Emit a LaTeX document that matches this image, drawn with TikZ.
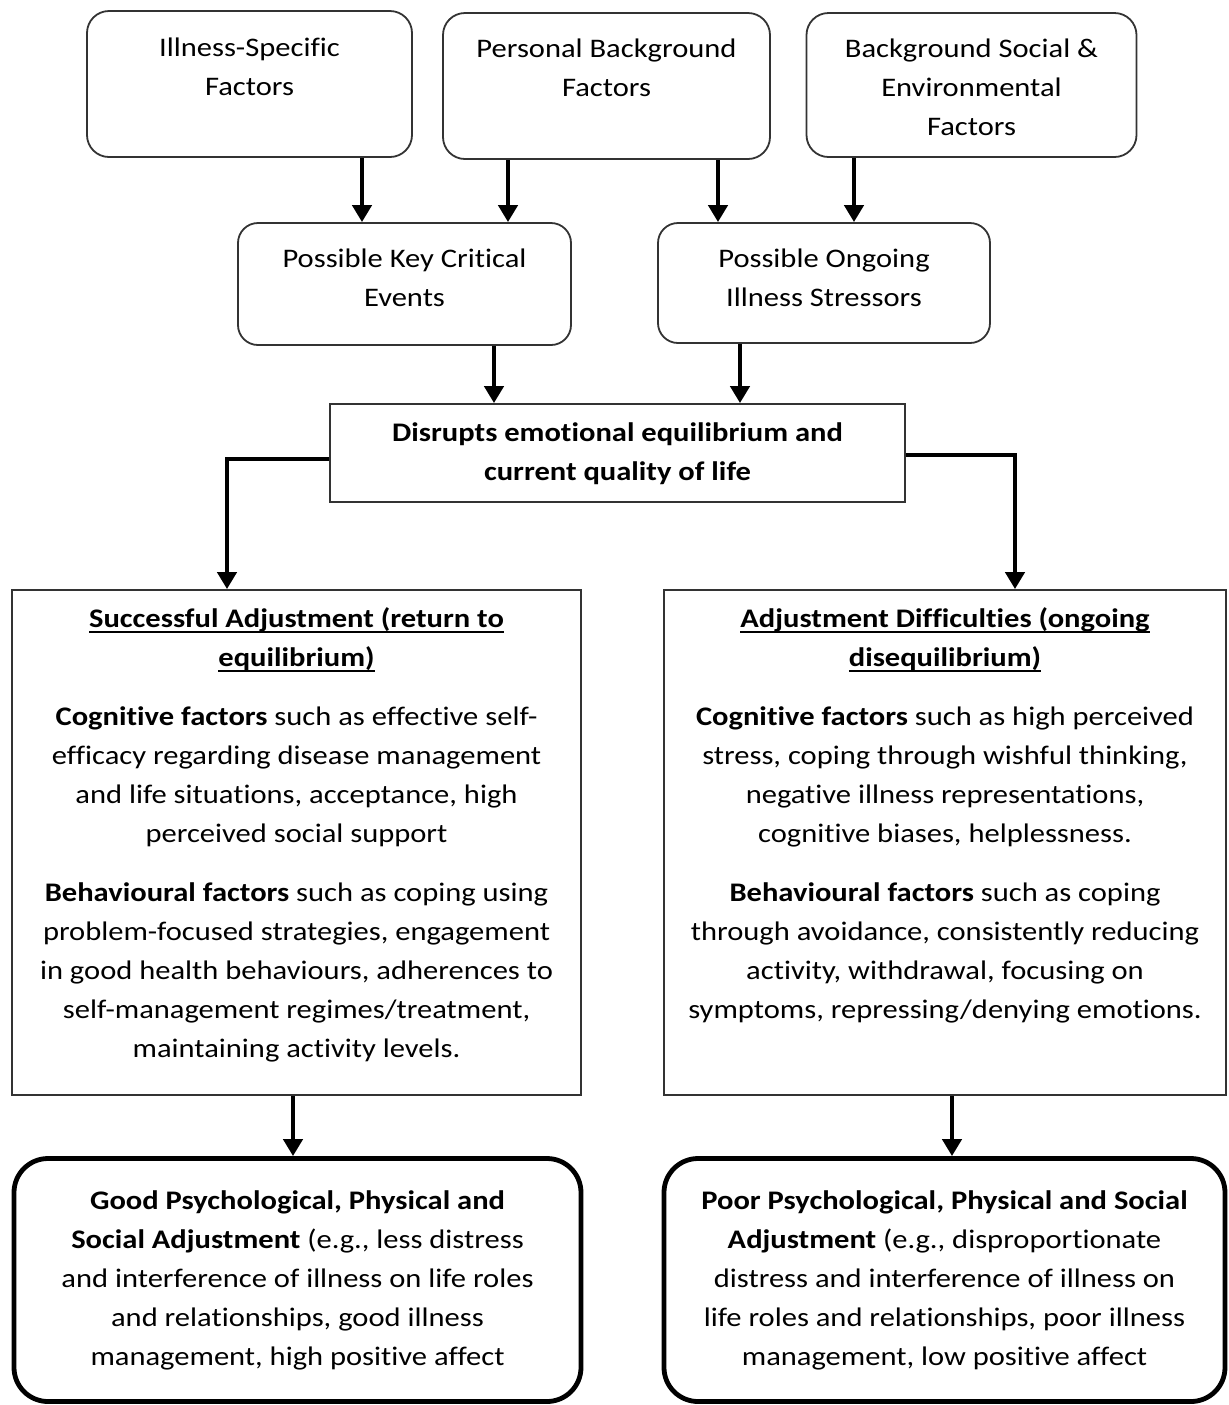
\documentclass[tikz,border=0pt]{standalone}
\usepackage{fontspec}
\setmainfont{Carlito}[FakeStretch=1.14, Ligatures={NoCommon}]
\usetikzlibrary{arrows.meta}
\newcommand\myul[1]{\setbox0\hbox{#1}\rlap{\rule[-2.6pt]{\wd0}{0.75pt}}\box0}
\tikzset{
  every node/.style={font=\fontsize{13.4pt}{19.5pt}\selectfont},
  rbox/.style={draw=black!80, line width=0.9pt, rounded corners=11pt, inner sep=0pt},
  sbox/.style={draw=black!80, line width=0.9pt, inner sep=0pt},
  obox/.style={draw=black, line width=2.4pt, rounded corners=17pt, inner sep=0pt},
  txt/.style={inner sep=0pt, align=center, anchor=north},
  arr/.style={line width=2.4pt, -{Triangle[width=9.5pt,length=8.5pt]}},
}
\begin{document}
\begin{tikzpicture}[x=0.5pt,y=-0.5pt]
\useasboundingbox (0,0) rectangle (1229,1405);
% top boxes
\node[rbox, minimum width=162.5pt, minimum height=73pt] (A) at (249.5,84) {};
\node[rbox, minimum width=163.5pt, minimum height=73pt] (B) at (606.5,86) {};
\node[rbox, minimum width=165pt, minimum height=72pt] (C) at (971.5,85) {};
\node[txt] (At) at (249.5,29) {\strut Illness-Specific\\Factors};
\node[txt] (Bt) at (606.5,30) {\strut Personal Background\\Factors};
\node[txt] (Ct) at (971.5,30) {\strut Background Social \&\\Environmental\\Factors};
% middle boxes
\node[rbox, rounded corners=10pt, minimum width=166.5pt, minimum height=61pt] (D) at (404.5,284) {};
\node[rbox, rounded corners=10pt, minimum width=166pt, minimum height=60pt] (E) at (824,283) {};
\node[txt] (Dt) at (404.5,240) {\strut Possible Key Critical\\Events};
\node[txt] (Et) at (824,240) {\strut Possible Ongoing\\Illness Stressors};
% central box
\node[sbox, minimum width=287.5pt, minimum height=49pt, align=center] (F) at (617.5,453)
  {\bfseries\strut Disrupts emotional equilibrium and\\\bfseries current quality of life\strut};
% adjustment boxes
\node[sbox, minimum width=284.5pt, minimum height=252.5pt] (G) at (296.5,842.5) {};
\node[sbox, minimum width=281pt, minimum height=252.5pt] (H) at (945,842.5) {};
\node[txt] (Gt) at (296.5,600) {\strut\textbf{\myul{Successful Adjustment (return to}}\\
  \textbf{\myul{equilibrium)}}\\[10pt]
  \textbf{Cognitive factors} such as effective self-\\
  efficacy regarding disease management\\
  and life situations, acceptance, high\\
  perceived social support\\[10pt]
  \textbf{Behavioural factors} such as coping using\\
  problem-focused strategies, engagement\\
  in good health behaviours, adherences to\\
  self-management regimes/treatment,\\
  maintaining activity levels.};
\node[txt] (Ht) at (945,600) {\strut\textbf{\myul{Adjustment Difficulties (ongoing}}\\
  \textbf{\myul{disequilibrium)}}\\[10pt]
  \textbf{Cognitive factors} such as high perceived\\
  stress, coping through wishful thinking,\\
  negative illness representations,\\
  cognitive biases, helplessness.\\[10pt]
  \textbf{Behavioural factors} such as coping\\
  through avoidance, consistently reducing\\
  activity, withdrawal, focusing on\\
  symptoms, repressing/denying emotions.};
% outcome boxes
\node[obox, minimum width=283.5pt, minimum height=121.5pt, align=center] (I) at (297.5,1280)
  {\strut\textbf{Good Psychological, Physical and}\\
   \textbf{Social Adjustment} (e.g., less distress\\
   and interference of illness on life roles\\
   and relationships, good illness\\
   management, high positive affect\strut};
\node[obox, minimum width=280.5pt, minimum height=121.5pt, align=center] (J) at (944.5,1280)
  {\strut\textbf{Poor Psychological, Physical and Social}\\
   \textbf{Adjustment} (e.g., disproportionate\\
   distress and interference of illness on\\
   life roles and relationships, poor illness\\
   management, low positive affect\strut};
% connectors
\draw[arr] (362,0 |- A.south) -- (362,0 |- D.north);
\draw[arr] (508,0 |- B.south) -- (508,0 |- D.north);
\draw[arr] (718,0 |- B.south) -- (718,0 |- E.north);
\draw[arr] (854,0 |- C.south) -- (854,0 |- E.north);
\draw[arr] (494,0 |- D.south) -- (494,0 |- F.north);
\draw[arr] (740,0 |- E.south) -- (740,0 |- F.north);
\draw[arr] (F.west |- 0,459) -| (227,0 |- G.north);
\draw[arr] (F.east |- 0,455) -| (1015,0 |- H.north);
\draw[arr] (293,0 |- G.south) -- (293,0 |- I.north);
\draw[arr] (952,0 |- H.south) -- (952,0 |- J.north);
\end{tikzpicture}
\end{document}
